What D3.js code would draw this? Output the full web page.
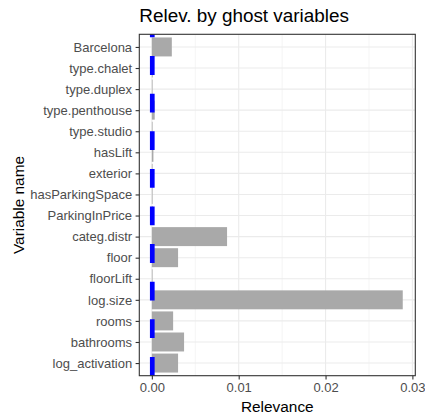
<!DOCTYPE html>
<html>
<head>
<meta charset="utf-8">
<script src="https://cdn.jsdelivr.net/npm/d3@7"></script>
<style>
  html, body { margin: 0; padding: 0; background: #fff; }
  svg { display: block; }
  text { font-family: "Liberation Sans", Arial, sans-serif; }
</style>
</head>
<body>
<svg id="chart" width="425" height="418"></svg>
<script>
// ---- data ----
const variables = [
  "Barcelona", "type.chalet", "type.duplex", "type.penthouse", "type.studio",
  "hasLift", "exterior", "hasParkingSpace", "ParkingInPrice", "categ.distr",
  "floor", "floorLift", "log.size", "rooms", "bathrooms", "log_activation"
];
const relevance = [
  0.0023, 0.0001, 0.00008, 0.00033, 0.00008,
  0.00018, 0.00008, 0.00008, 0.0001, 0.00866,
  0.00302, 0.00008, 0.02889, 0.00245, 0.00371, 0.00302
];
const thresholdValue = [0.00005];
const xTicks = [0, 0.01, 0.02, 0.03];
const xMinorTicks = [0.005, 0.015, 0.025];
const xTickLabels = ["0.00", "0.01", "0.02", "0.03"];
const titleText = "Relev. by ghost variables";
const xTitle = "Relevance";
const yTitle = "Variable name";

// ---- layout ----
const W = 425, H = 418;
const panel = { left: 139.3, right: 415.3, top: 34.3, bottom: 375.7 };
const svg = d3.select("#chart");

// ggplot-like expansion: 5% on continuous
const dMin = Math.min(0, d3.min(relevance)), dMax = d3.max(relevance);
const span = dMax - dMin;
const x = d3.scaleLinear()
  .domain([dMin - 0.05 * span, dMax + 0.05 * span])
  .range([panel.left, panel.right]);

const y = d3.scalePoint()
  .domain(variables)
  .range([panel.top, panel.bottom])
  .padding(0.6);
const step = y.step();
const barH = 0.9 * step;

// panel background
svg.append("rect")
  .attr("x", panel.left).attr("y", panel.top)
  .attr("width", panel.right - panel.left).attr("height", panel.bottom - panel.top)
  .attr("fill", "#FFFFFF");

// grid
const grid = svg.append("g");
grid.selectAll("line.minor").data(xMinorTicks).join("line")
  .attr("x1", d => x(d)).attr("x2", d => x(d))
  .attr("y1", panel.top).attr("y2", panel.bottom)
  .attr("stroke", "#EBEBEB").attr("stroke-width", 0.55);
grid.selectAll("line.majx").data(xTicks).join("line")
  .attr("x1", d => x(d)).attr("x2", d => x(d))
  .attr("y1", panel.top).attr("y2", panel.bottom)
  .attr("stroke", "#EBEBEB").attr("stroke-width", 1.1);
grid.selectAll("line.majy").data(variables).join("line")
  .attr("x1", panel.left).attr("x2", panel.right)
  .attr("y1", d => y(d)).attr("y2", d => y(d))
  .attr("stroke", "#EBEBEB").attr("stroke-width", 1.1);

// bars
svg.append("g").selectAll("rect").data(variables).join("rect")
  .attr("x", (d, i) => x(Math.min(0, relevance[i])))
  .attr("width", (d, i) => Math.abs(x(relevance[i]) - x(0)))
  .attr("y", d => y(d) - barH / 2)
  .attr("height", barH)
  .attr("fill", "#A9A9A9");

// blue dashed threshold line (drawn from bottom to top)
const lw = 4.7;
svg.append("g").selectAll("line").data(thresholdValue).join("line")
  .attr("x1", d => x(d)).attr("x2", d => x(d))
  .attr("y1", panel.bottom).attr("y2", panel.top)
  .attr("stroke", "#0000FF")
  .attr("stroke-width", lw)
  .attr("stroke-dasharray", `${4 * lw},${4 * lw}`);

// panel border
svg.append("rect")
  .attr("x", panel.left).attr("y", panel.top)
  .attr("width", panel.right - panel.left).attr("height", panel.bottom - panel.top)
  .attr("fill", "none").attr("stroke", "#333333").attr("stroke-width", 1.1);

// axes
const xAxis = d3.axisBottom(x).tickValues(xTicks)
  .tickFormat((d, i) => xTickLabels[i]).tickSizeInner(3.7).tickSizeOuter(0).tickPadding(3);
const gx = svg.append("g").attr("transform", `translate(0,${panel.bottom})`).call(xAxis);
gx.select(".domain").remove();
gx.selectAll(".tick line").attr("stroke", "#333333").attr("stroke-width", 1.1);
gx.selectAll(".tick text")
  .attr("fill", "#4D4D4D").attr("font-size", "13px")
  .attr("font-family", "Liberation Sans, Arial, sans-serif");

const yAxis = d3.axisLeft(y).tickSizeInner(3.7).tickSizeOuter(0).tickPadding(3.5);
const gy = svg.append("g").attr("transform", `translate(${panel.left},0)`).call(yAxis);
gy.select(".domain").remove();
gy.selectAll(".tick line").attr("stroke", "#333333").attr("stroke-width", 1.1);
gy.selectAll(".tick text")
  .attr("fill", "#4D4D4D").attr("font-size", "13px")
  .attr("font-family", "Liberation Sans, Arial, sans-serif");

// titles
svg.append("text")
  .attr("x", panel.left).attr("y", 22)
  .attr("font-size", "18.9px").attr("fill", "#000")
  .text(titleText);

svg.append("text")
  .attr("x", (panel.left + panel.right) / 2).attr("y", 411.5)
  .attr("text-anchor", "middle")
  .attr("font-size", "15.4px").attr("fill", "#000")
  .text(xTitle);

svg.append("text")
  .attr("transform", `translate(24,${(panel.top + panel.bottom) / 2}) rotate(-90)`)
  .attr("text-anchor", "middle")
  .attr("font-size", "15.4px").attr("fill", "#000")
  .text(yTitle);
</script>
</body>
</html>
